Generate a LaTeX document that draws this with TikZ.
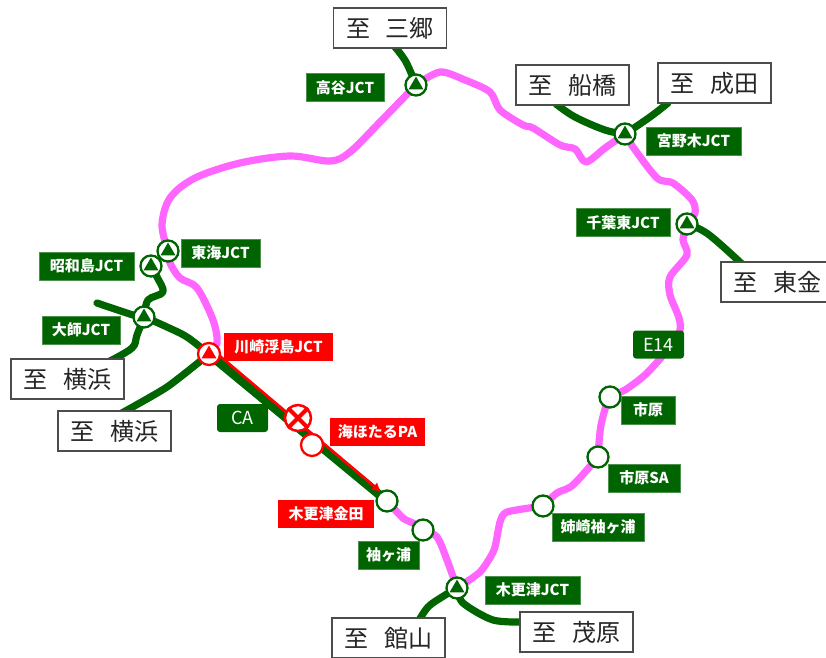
\documentclass[tikz,border=0pt]{standalone}
\usepackage{fontspec}
\setmainfont{Noto Sans CJK JP}
\usetikzlibrary{shapes.geometric,arrows.meta}
\definecolor{rgreen}{RGB}{0,100,0}
\definecolor{rpink}{RGB}{255,102,255}
\definecolor{rred}{RGB}{255,0,0}
\tikzset{
  roadp/.style={draw=rpink,line width=7.2pt,line cap=round,line join=round},
  roadg/.style={draw=rgreen,line width=7.2pt,line cap=round,line join=round},
  dest/.style={draw=black!70,line width=1.3pt,fill=white,inner sep=0pt,minimum width=113pt,minimum height=40pt,font=\fontsize{24}{24}\selectfont,text=black!85},
  glabel/.style={fill=rgreen,draw=rgreen!70,line width=.4pt,text=white,inner sep=0pt,minimum height=28pt,font=\fontsize{15}{15}\selectfont\bfseries},
  rlabel/.style={fill=rred,text=white,inner sep=0pt,minimum height=28pt,font=\fontsize{15}{15}\selectfont\bfseries},
  rtag/.style={fill=rgreen,rounded corners=3pt,text=white,inner sep=0pt,minimum width=51pt,minimum height=28pt,font=\fontsize{18}{18}\selectfont},
  gcirc/.style={circle,draw=rgreen,line width=2.3pt,fill=white,minimum size=21pt,inner sep=0pt},
  rcirc/.style={circle,draw=rred,line width=2.3pt,fill=white,minimum size=22pt,inner sep=0pt},
  tri/.style={regular polygon,regular polygon sides=3,fill=#1,draw=none,minimum size=17pt,inner sep=0pt}
}
\begin{document}
\begin{tikzpicture}[x=1pt,y=-1pt]
\useasboundingbox (0,0) rectangle (826,657);
% junction and end coordinates
\coordinate (jkawa) at (209,354);
\coordinate (jtokai) at (168,251);
\coordinate (jshowa) at (151,266);
\coordinate (jdaishi) at (144,317);
\coordinate (jtaka) at (416,85);
\coordinate (jmiya) at (625,134);
\coordinate (jchiba) at (687,224);
\coordinate (jkisa) at (457,588);
\coordinate (skana) at (387,501);
\coordinate (ssode) at (423,530);
\coordinate (sane) at (543,506);
\coordinate (ssa) at (598,457);
\coordinate (sichi) at (610,397);
\coordinate (pumi) at (312,445);
\coordinate (xclosed) at (298,418);
\coordinate (free) at (97,303);
\coordinate (redend) at (381,492);
\coordinate (redstart) at (215,352);
% pink roads
\draw[roadp] plot[smooth,tension=.55] coordinates {(jkawa) (217,343) (213,320) (197,288) (180,278) (170,263) (jtokai)};
\draw[roadp] plot[smooth,tension=.55] coordinates {(jtokai) (162,225) (170,198) (195,178) (240,163) (290,156) (330,161) (350,152) (380,122) (jtaka)};
\draw[roadp] plot[smooth,tension=.5] coordinates {(jtaka) (440,72) (465,80) (490,92) (500,110) (523,125) (533,128) (560,145) (575,149) (586,162) (605,148) (jmiya)};
\draw[roadp] plot[smooth,tension=.5] coordinates {(jmiya) (633,147) (657,178) (673,183) (692,200) (695,213) (jchiba)};
\draw[roadp] plot[smooth,tension=.5] coordinates {(jchiba) (683,240) (687,255) (670,277) (670,295) (680,330) (650,370) (625,390) (sichi) (601,425) (ssa)};
\draw[roadp] plot[smooth,tension=.5] coordinates {(ssa) (573,485) (557,493) (sane)};
\draw[roadp] plot[smooth,tension=.4] coordinates {(sane) (507,512) (500,522) (494,550) (480,572) (jkisa)};
\draw[roadp] plot[smooth,tension=.5] coordinates {(jkisa) (447,560) (437,537) (ssode)};
\draw[roadp] plot[smooth,tension=.5] coordinates {(ssode) (413,523) (403,518) (skana)};
% green roads
\draw[roadg] plot[smooth,tension=.6] coordinates {(395,47) (406,62) (jtaka)};
\draw[roadg] plot[smooth,tension=.6] coordinates {(556,104) (575,117) (605,130) (jmiya)};
\draw[roadg] plot[smooth,tension=.6] coordinates {(668,103) (650,117) (jmiya)};
\draw[roadg] plot[smooth,tension=.6] coordinates {(jchiba) (708,234) (742,264)};
\draw[roadg] plot[smooth,tension=.55] coordinates {(jshowa) (157,277) (163,292) (148,300) (jdaishi)};
\draw[roadg] plot[smooth,tension=.5] coordinates {(free) (133,315) (jdaishi) (167,327) (187,337) (jkawa)};
\draw[roadg] plot[smooth,tension=.6] coordinates {(jdaishi) (137,335) (132,348) (108,362)};
\draw[roadg] plot[smooth,tension=.4] coordinates {(jkawa) (167,387) (120,414)};
\draw[roadg,line width=9pt] (jkawa) -- (skana);
\draw[roadg] plot[smooth,tension=.6] coordinates {(418,622) (428,607) (442,597) (jkisa)};
\draw[roadg] plot[smooth,tension=.5] coordinates {(jkisa) (463,603) (493,620) (525,622)};
% red closure line
\draw[draw=rred,line width=2.8pt,-{Latex[length=9pt,width=10pt]}] (redstart) -- (redend);
% junction markers
\node[gcirc] (ntaka) at (jtaka) {};
\node[tri=rgreen] (ttaka) at (416,85) {};
\node[gcirc] (nmiya) at (jmiya) {};
\node[tri=rgreen] (tmiya) at (625,134) {};
\node[gcirc] (nchiba) at (jchiba) {};
\node[tri=rgreen] (tchiba) at (687,224) {};
\node[gcirc] (ntokai) at (jtokai) {};
\node[tri=rgreen] (ttokai) at (168,251) {};
\node[gcirc] (nshowa) at (jshowa) {};
\node[tri=rgreen] (tshowa) at (151,266) {};
\node[gcirc] (ndaishi) at (jdaishi) {};
\node[tri=rgreen] (tdaishi) at (144,317) {};
\node[gcirc] (nkisa) at (jkisa) {};
\node[tri=rgreen] (tkisa) at (457,588) {};
\node[rcirc] (nkawa) at (jkawa) {};
\node[tri=rred] (tkawa) at (209,354) {};
\node[gcirc] (nkana) at (skana) {};
\node[gcirc] (nsode) at (ssode) {};
\node[gcirc] (nane) at (sane) {};
\node[gcirc] (nsa) at (ssa) {};
\node[gcirc] (nichi) at (sichi) {};
\node[rcirc] (numi) at (pumi) {};
\node[rcirc,minimum size=26pt,line width=2.5pt] (nclosed) at (xclosed) {};
\draw[rred,line width=4pt] (nclosed.45) -- (nclosed.225) (nclosed.135) -- (nclosed.315);
% destination boxes
\node[dest] (d1) at (390,28) {至\hspace{.65em}三郷};
\node[dest] (d2) at (572.5,85) {至\hspace{.65em}船橋};
\node[dest] (d3) at (714.5,83) {至\hspace{.65em}成田};
\node[dest] (d4) at (777.5,282) {至\hspace{.65em}東金};
\node[dest] (d5) at (67.5,379) {至\hspace{.65em}横浜};
\node[dest] (d6) at (114.5,431) {至\hspace{.65em}横浜};
\node[dest] (d7) at (388.5,638) {至\hspace{.65em}館山};
\node[dest] (d8) at (576.5,632) {至\hspace{.65em}茂原};
% green labels
\node[glabel,minimum width=78pt] (l1) at (345,87.5) {高谷JCT};
\node[glabel,minimum width=95pt] (l2) at (693.5,141) {宮野木JCT};
\node[glabel,minimum width=94pt] (l3) at (623,222.5) {千葉東JCT};
\node[glabel,minimum width=79pt] (l4) at (220.5,253) {東海JCT};
\node[glabel,minimum width=95pt] (l5) at (86.5,266) {昭和島JCT};
\node[glabel,minimum width=78pt] (l6) at (81,330) {大師JCT};
\node[glabel,minimum width=95pt] (l7) at (532.5,590) {木更津JCT};
\node[glabel,minimum width=61pt] (l8) at (388.5,555) {袖ヶ浦};
\node[glabel,minimum width=92pt] (l9) at (598,527) {姉崎袖ヶ浦};
\node[glabel,minimum width=72pt] (l10) at (644,478) {市原SA};
\node[glabel,minimum width=54pt] (l11) at (648,410) {市原};
% red labels
\node[rlabel,minimum width=109pt] (r1) at (278.5,346.5) {川崎浮島JCT};
\node[rlabel,minimum width=95pt] (r2) at (377.5,432) {海ほたるPA};
\node[rlabel,minimum width=96pt] (r3) at (326,514) {木更津金田};
% route tags
\node[rtag] (e14) at (658.5,344.5) {E14};
\node[rtag] (ca) at (242.5,418) {CA};
\end{tikzpicture}
\end{document}
